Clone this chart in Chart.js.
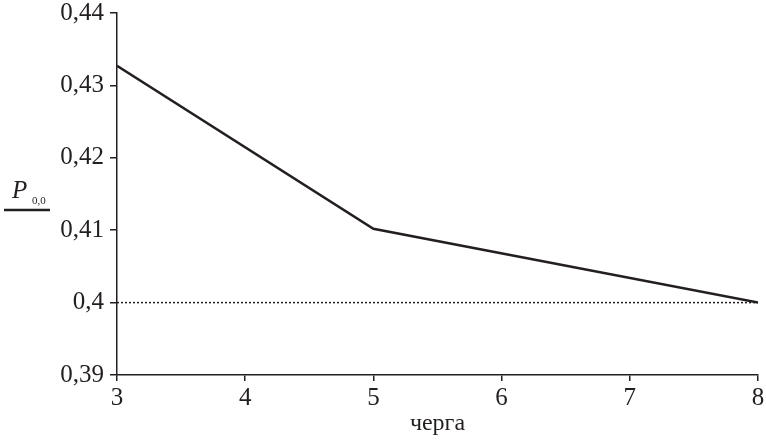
<!DOCTYPE html>
<html>
<head>
<meta charset="utf-8">
<script src="https://cdn.jsdelivr.net/npm/chart.js@4/dist/chart.umd.min.js"></script>
<style>
html,body{margin:0;padding:0;background:#fff;}
#wrap{width:766px;height:440px;position:relative;}
</style>
</head>
<body>
<div id="wrap"><canvas id="c"></canvas></div>
<script>
// дані
var queueX = [3, 5, 8];
var p00 = [0.4327, 0.4102, 0.4];
var refX = [3, 8];
var refY = [0.4, 0.4];
var yMin = 0.39, yMax = 0.44;
var xMin = 3, xMax = 8;

var serif = "'Liberation Serif', 'Times New Roman', serif";
var ink = "#231f20";

function fmtComma(v){
	var s = (Math.round(v*100)/100).toString();
	return s.replace(".", ",");
}

// підпис осі Y: P з індексом 0,0 та рисою
var yLabelPlugin = {
	id: "yLabel",
	afterDraw: function(chart){
		var ctx = chart.ctx;
		ctx.save();
		ctx.fillStyle = ink;
		ctx.textBaseline = "alphabetic";
		ctx.font = "italic 25px " + serif;
		ctx.fillText("P", 12, 198);
		ctx.font = "11px " + serif;
		ctx.fillText("0,0", 32, 204);
		ctx.strokeStyle = ink;
		ctx.lineWidth = 2.5;
		ctx.beginPath();
		ctx.moveTo(4, 210);
		ctx.lineTo(50, 210);
		ctx.stroke();
		ctx.restore();
	}
};

var data = {
	datasets: [
		{
			data: queueX.map(function(x, i){ return {x: x, y: p00[i]}; }),
			borderColor: ink,
			borderWidth: 2.5,
			pointRadius: 0,
			tension: 0,
			fill: false
		},
		{
			data: refX.map(function(x, i){ return {x: x, y: refY[i]}; }),
			borderColor: ink,
			borderWidth: 1.5,
			borderDash: [2, 2],
			pointRadius: 0,
			fill: false
		}
	]
};

new Chart(document.getElementById("c"), {
	type: "line",
	data: data,
	plugins: [yLabelPlugin],
	options: {
		responsive: true,
		maintainAspectRatio: false,
		animation: false,
		layout: {padding: {left: 0, right: 8, top: 13, bottom: 0}},
		plugins: {legend: {display: false}, tooltip: {enabled: false}},
		scales: {
			x: {
				type: "linear",
				min: xMin, max: xMax,
				afterFit: function(s){ s.height = 65; s.paddingLeft = 0; s.paddingRight = 0; },
				grid: {drawOnChartArea: false, drawTicks: true, tickLength: 6, color: ink, lineWidth: 1.5},
				border: {display: true, color: ink, width: 1.5},
				ticks: {stepSize: 1, color: ink, padding: 2, font: {family: serif, size: 25}},
				title: {display: true, text: "черга", color: ink, font: {family: serif, size: 24}, padding: {top: 0, bottom: 2}}
			},
			y: {
				min: yMin, max: yMax,
				afterFit: function(s){ s.width = 117; s.paddingTop = 0; s.paddingBottom = 0; },
				grid: {drawOnChartArea: false, drawTicks: true, tickLength: 7, color: ink, lineWidth: 1.5},
				border: {display: true, color: ink, width: 1.5},
				ticks: {stepSize: 0.01, color: ink, padding: 6, font: {family: serif, size: 25}, callback: function(v){ return fmtComma(v); }}
			}
		}
	}
});
</script>
</body>
</html>
